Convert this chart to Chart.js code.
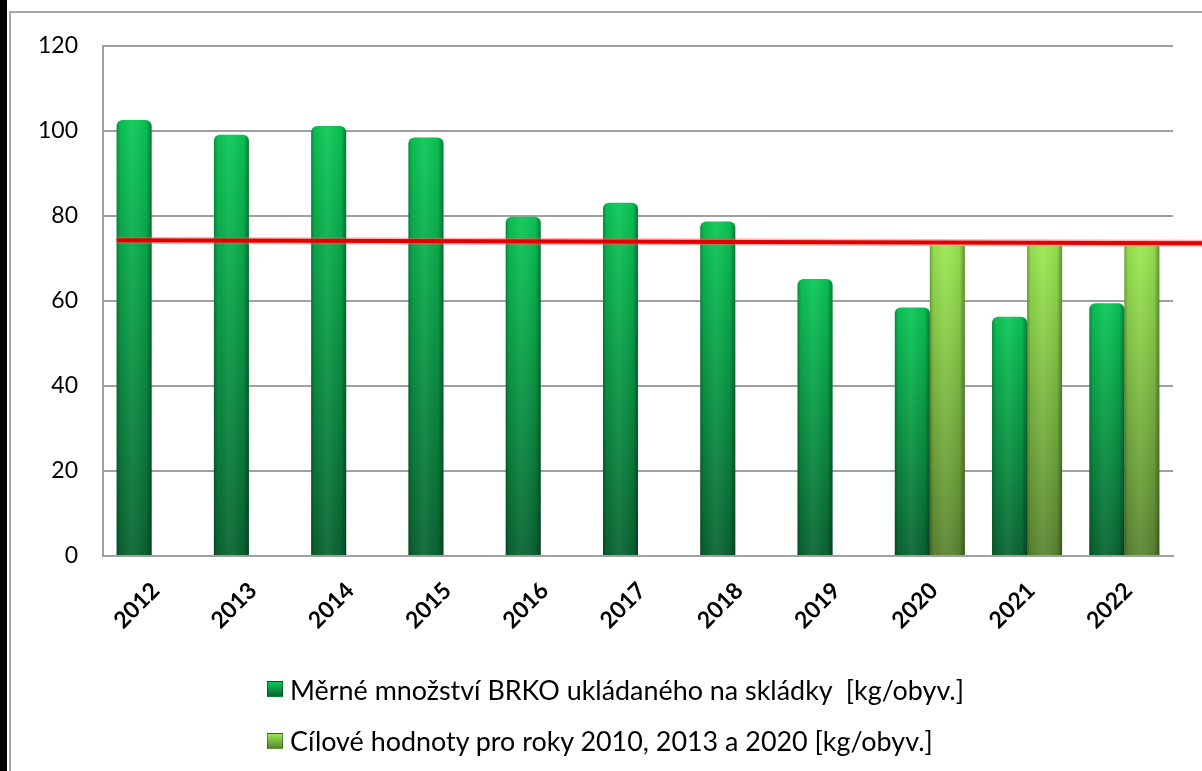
<!DOCTYPE html>
<html><head><meta charset="utf-8">
<script src="https://cdn.jsdelivr.net/npm/chart.js@4.4.1/dist/chart.umd.min.js"></script>
<style>
html,body{margin:0;padding:0;background:#fff;width:1202px;height:771px;overflow:hidden;font-family:Lato,"Noto Sans",sans-serif;}
#strip{position:absolute;left:0;top:0;width:7px;height:771px;background:#000;}
#frame{position:absolute;left:9px;top:11px;width:1400px;height:1000px;border:2px solid #a6a6a6;box-sizing:border-box;}
#wrap{position:absolute;left:0;top:0;width:1202px;height:771px;}
#legend{position:absolute;left:267px;top:674px;}
.item{display:flex;align-items:center;height:30px;margin-bottom:21.5px;font-size:26.9px;color:#000;white-space:pre;}
.mk{width:16px;height:16px;margin-right:7px;box-sizing:border-box;border:1px solid rgba(0,0,0,0.35);flex:none;}
</style></head>
<body>
<div id="strip"></div>
<div id="frame"></div>
<div id="wrap"><canvas id="c" width="1202" height="771"></canvas></div>
<div id="legend"></div>
<script>
const categories = ['2012','2013','2014','2015','2016','2017','2018','2019','2020','2021','2022'];
const measured = [102.6, 99.1, 101.2, 98.5, 79.8, 83.1, 78.7, 65.2, 58.5, 56.3, 59.5];
const targets = [null, null, null, null, null, null, null, null, 73, 73, 73];
const seriesLabels = ['Měrné množství BRKO ukládaného na skládky  [kg/obyv.]', 'Cílové hodnoty pro roky 2010, 2013 a 2020 [kg/obyv.]'];
const yTicks = [0, 20, 40, 60, 80, 100, 120];
const redLine = [74.3, 73.6];

const darkTop = '#0bc857', darkBot = '#0a6533';
const lightTop = '#9be852', lightBot = '#5c8632';

function barGrad(top, bot){
  return (c) => {
    const ch = c.chart, ys = ch.scales && ch.scales.y;
    if (!ch.chartArea || !ys || c.raw == null) return top;
    const y0 = ys.getPixelForValue(c.raw), y1 = ys.getPixelForValue(0);
    const g = ch.ctx.createLinearGradient(0, y0, 0, y1);
    g.addColorStop(0, top); g.addColorStop(1, bot);
    return g;
  };
}

const cylinder = {
  id: 'cylinder',
  afterDatasetsDraw(chart){
    const ctx = chart.ctx;
    chart.data.datasets.forEach((ds, di) => {
      const meta = chart.getDatasetMeta(di);
      meta.data.forEach((el, i) => {
        if (ds.data[i] == null) return;
        const p = el.getProps(['x','y','base','width'], true);
        const l = p.x - p.width/2, w = p.width, t = p.y, h = p.base - p.y;
        const g = ctx.createLinearGradient(l, 0, l + w, 0);
        g.addColorStop(0, 'rgba(0,0,0,0.30)');
        g.addColorStop(0.1, 'rgba(0,0,0,0.06)');
        g.addColorStop(0.45, 'rgba(255,255,255,0.06)');
        g.addColorStop(0.85, 'rgba(0,0,0,0.06)');
        g.addColorStop(1, 'rgba(0,0,0,0.38)');
        ctx.save();
        ctx.fillStyle = g;
        ctx.beginPath();
        const r = di === 0 ? 6 : 0;
        ctx.roundRect(l, t, w, h, [r, r, 0, 0]);
        ctx.fill();
        ctx.restore();
      });
    });
  }
};

const refLine = {
  id: 'refLine',
  afterDatasetsDraw(chart){
    const ctx = chart.ctx, ys = chart.scales.y;
    const el = chart.getDatasetMeta(0).data[0];
    const x0 = el.x - el.width/2, x1 = chart.width + 5;
    const y0 = ys.getPixelForValue(redLine[0]), y1 = ys.getPixelForValue(redLine[1]);
    ctx.save();
    ctx.lineCap = 'butt';
    ctx.strokeStyle = 'rgba(255,90,90,0.45)'; ctx.lineWidth = 7;
    ctx.beginPath(); ctx.moveTo(x0, y0); ctx.lineTo(x1, y1); ctx.stroke();
    ctx.strokeStyle = '#e20000'; ctx.lineWidth = 4;
    ctx.beginPath(); ctx.moveTo(x0, y0); ctx.lineTo(x1, y1); ctx.stroke();
    ctx.restore();
  }
};

const chart = new Chart(document.getElementById('c'), {
  type: 'bar',
  data: {
    labels: categories,
    datasets: [
      { label: seriesLabels[0], data: measured, backgroundColor: barGrad(darkTop, darkBot),
        borderWidth: 0, borderRadius: {topLeft: 6, topRight: 6, bottomLeft: 0, bottomRight: 0}, borderSkipped: 'start' },
      { label: seriesLabels[1], data: targets, backgroundColor: barGrad(lightTop, lightBot), borderWidth: 0 }
    ]
  },
  options: {
    responsive: false,
    animation: false,
    events: [],
    categoryPercentage: 0.72,
    barPercentage: 1,
    layout: { padding: { left: 20, top: 46, right: 29, bottom: 0 } },
    plugins: { legend: { display: false }, tooltip: { enabled: false } },
    scales: {
      x: {
        grid: { display: false },
        border: { display: true, color: '#a0a0a0', width: 2 },
        ticks: { color: '#000', font: { family: 'Lato', size: 23, weight: 'bold' }, minRotation: 45, maxRotation: 45, padding: 13, labelOffset: 4 },
        afterFit(s){ s.height = 215; }
      },
      y: {
        min: 0, max: 120,
        afterBuildTicks(s){ s.ticks = yTicks.map(v => ({ value: v })); },
        grid: { color: '#a0a0a0', lineWidth: 2, drawTicks: false },
        border: { display: true, color: '#a0a0a0', width: 2 },
        ticks: { color: '#000', font: { family: 'Lato', size: 23 }, padding: 25 },
        afterFit(s){ s.width = 83; }
      }
    }
  },
  plugins: [cylinder, refLine]
});

const legend = document.getElementById('legend');
const marks = [[darkTop, darkBot], [lightTop, lightBot]];
chart.data.datasets.forEach((ds, i) => {
  const it = document.createElement('div'); it.className = 'item';
  const mk = document.createElement('span'); mk.className = 'mk';
  mk.style.background = 'linear-gradient(' + marks[i][0] + ',' + marks[i][1] + ')';
  const tx = document.createElement('span'); tx.textContent = ds.label;
  it.appendChild(mk); it.appendChild(tx); legend.appendChild(it);
});
</script>
</body></html>
